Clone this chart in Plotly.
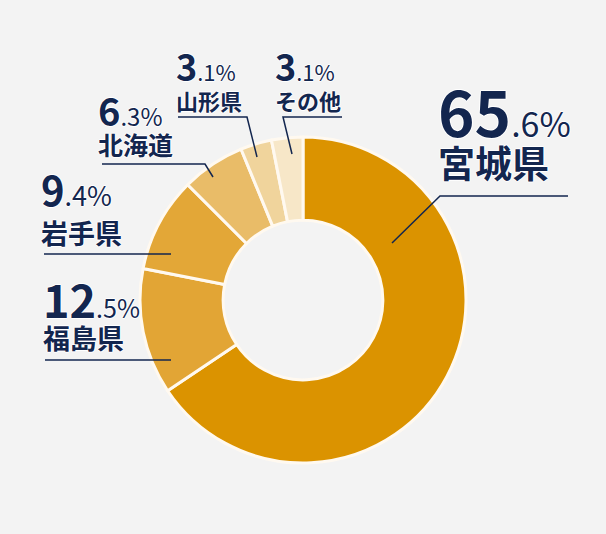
import plotly.graph_objects as go

# data
prefectures = ["宮城県", "福島県", "岩手県", "北海道", "山形県", "その他"]
shares = [65.6, 12.5, 9.4, 6.3, 3.1, 3.1]
slice_colors = ["#DB9300", "#E2A535", "#E3A737", "#E9BC68", "#F0D49C", "#F7E7C8"]

W, H = 606, 534
NAVY = "#13264F"
BG = "#F3F3F3"


def px(x):
    return x / W


def py(y):
    return 1 - y / H


# label layout (pixels): left x, vertical centre of the two-line block,
# base size (sets line gap), big digits / decimals / name sizes
label_x = [436, 41, 39, 96, 174, 273]
block_y = [127, 311.5, 205.5, 122, 77.5, 77.5]
base_size = [31.5, 24, 29, 22, 22, 22]
big_size = [62, 45, 40, 38, 36, 36]
small_size = [34, 25, 27, 24, 22, 22]
name_size = [37, 27, 27, 25, 22, 22]

# leader lines (pixel polylines)
leaders = [
    [(568, 196), (440, 196), (392, 243)],
    [(45, 360), (171, 360)],
    [(44, 254), (171, 254)],
    [(102, 164), (205, 164), (213, 177)],
    [(178, 117), (247, 117), (257, 157)],
    [(342, 117), (283, 117), (292, 154)],
]

fig = go.Figure(go.Pie(
    labels=prefectures,
    values=shares,
    sort=False,
    direction="clockwise",
    rotation=0,
    hole=0.49,
    marker=dict(colors=slice_colors, line=dict(color="#FFF9F0", width=3)),
    textinfo="none",
    hoverinfo="label+percent",
    domain=dict(x=[px(140), px(466)], y=[py(463), py(137)]),
    showlegend=False,
))

halo = "1px 0 0 #fff, -1px 0 0 #fff, 0 1px 0 #fff, 0 -1px 0 #fff"
annotations = []
for i, name in enumerate(prefectures):
    whole, frac = f"{shares[i]:.1f}".split(".")
    text = (f"<span style='font-size:{big_size[i]}px'><b>{whole}</b></span>"
            f"<span style='font-size:{small_size[i]}px'>.{frac}%</span><br>"
            f"<span style='font-size:{name_size[i]}px'><b>{name}</b></span>")
    annotations.append(dict(
        x=px(label_x[i]), y=py(block_y[i]), xref="paper", yref="paper",
        xanchor="left", yanchor="middle", align="left", showarrow=False,
        text=text,
        font=dict(family="Noto Sans CJK JP", size=base_size[i], color=NAVY,
                  shadow=halo),
    ))

shapes = []
for pts in leaders:
    path = "M " + " L ".join(f"{px(x)},{py(y)}" for x, y in pts)
    shapes.append(dict(type="path", path=path, xref="paper", yref="paper",
                       line=dict(color=NAVY, width=1.5), layer="above"))

fig.update_layout(
    width=W, height=H,
    margin=dict(l=0, r=0, t=0, b=0),
    paper_bgcolor=BG, plot_bgcolor=BG,
    annotations=annotations,
    shapes=shapes,
)

fig.write_html("out.html", config={"displayModeBar": False},
               post_script="document.body.style.margin='0';document.body.style.overflow='hidden';")
